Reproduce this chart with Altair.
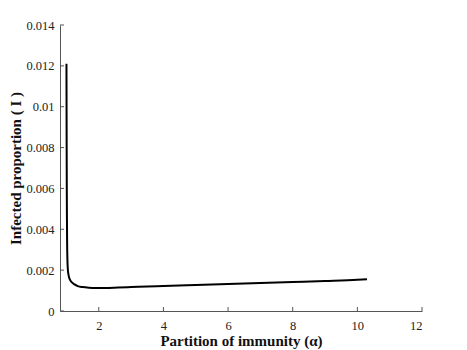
import altair as alt
import pandas as pd

alpha = [1.0, 1.003, 1.006, 1.01, 1.015, 1.02, 1.03, 1.04, 1.06, 1.08, 1.12, 1.17, 1.25, 1.35, 1.5, 1.7, 1.9, 2.2, 2.6, 3.0, 3.5, 4.0, 5.0, 6.0, 7.0, 8.0, 9.0, 10.0, 10.3]
infected = [0.0121, 0.0100, 0.0080, 0.0060, 0.0045, 0.0034, 0.0025, 0.0021, 0.0018, 0.00165, 0.00150, 0.00140, 0.00130, 0.00122, 0.00117, 0.00114, 0.00113, 0.00113, 0.00115, 0.00117, 0.00120, 0.00122, 0.00127, 0.00132, 0.00137, 0.00142, 0.00147, 0.00153, 0.00156]
x_ticks = [2, 4, 6, 8, 10, 12]
y_ticks = [0, 0.002, 0.004, 0.006, 0.008, 0.01, 0.012, 0.014]

df = pd.DataFrame({"alpha": alpha, "I": infected})
xt = pd.DataFrame({"alpha": x_ticks})
yt = pd.DataFrame({"I": y_ticks})

FONT = "Liberation Serif"
W, H = 362, 286
xscale = alt.Scale(domain=[0.8, 12], nice=False, zero=False)
yscale = alt.Scale(domain=[0, 0.014], nice=False)

line = alt.Chart(df).mark_line(color="black", strokeWidth=2, interpolate="monotone").encode(
    x=alt.X("alpha:Q", scale=xscale,
            axis=alt.Axis(title="Partition of immunity (α)", values=x_ticks,
                          grid=False, ticks=False, format="d",
                          labelFont=FONT, labelPadding=8, titlePadding=2)),
    y=alt.Y("I:Q", scale=yscale,
            axis=alt.Axis(title="Infected proportion ( I )", values=y_ticks,
                          grid=False, ticks=False, format=".3~f",
                          labelFont=FONT, labelPadding=6, titleX=-37, titleY=H / 2)),
)

xtick = alt.Chart(xt).mark_rule(color="#555", strokeWidth=1).encode(
    x=alt.X("alpha:Q", scale=xscale),
    y=alt.value(H), y2=alt.value(H - 4),
)
ytick = alt.Chart(yt).mark_rule(color="#555", strokeWidth=1).encode(
    y=alt.Y("I:Q", scale=yscale),
    x=alt.value(0), x2=alt.value(4),
)

chart = alt.layer(line, xtick, ytick).properties(
    width=W, height=H,
    autosize=alt.AutoSizeParams(type="none"),
    padding={"left": 52, "top": 17, "right": 37, "bottom": 47},
).configure_view(stroke=None).configure_axis(
    labelFont=FONT, titleFont=FONT, labelFontSize=12.5, titleFontSize=15,
    titleFontWeight="bold", labelColor="#222", titleColor="#111",
    domainColor="#555",
)

chart.save("out.html", embed_options={"renderer": "svg", "actions": False})
